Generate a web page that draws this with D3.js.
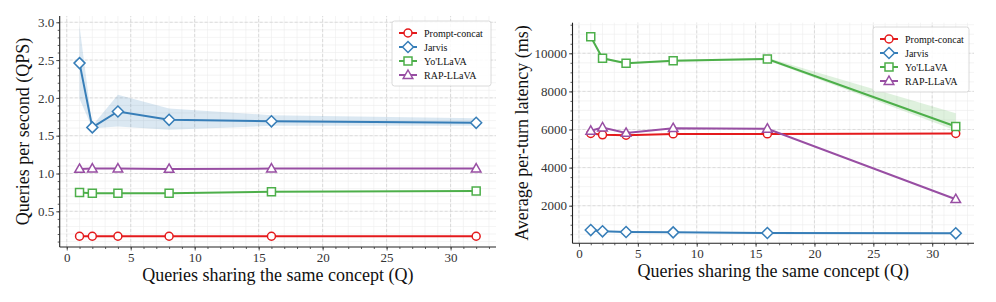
<!DOCTYPE html>
<html>
<head>
  <title>QPS and latency</title>
  <style>
    body { margin: 0; background: #fff; }
  </style>
</head>
<body>
  <svg id="chart" width="996" height="302"></svg>

  <script src="https://d3js.org/d3.v7.min.js"></script>
  <script>
    const queries = [1, 2, 4, 8, 16, 32];
    const methods = ["Prompt-concat", "Jarvis", "Yo'LLaVA", "RAP-LLaVA"];
    const colors = ["#e41a1c", "#377eb8", "#4daf4a", "#984ea3"];
    const markers = ["circle", "diamond", "square", "triangle"];

    // queries per second
    const qpsPrompt = [0.17, 0.17, 0.17, 0.17, 0.17, 0.17];
    const qpsJarvis = [2.46, 1.61, 1.82, 1.71, 1.69, 1.67];
    const qpsYollava = [0.75, 0.74, 0.74, 0.74, 0.76, 0.77];
    const qpsRap = [1.06, 1.065, 1.065, 1.06, 1.065, 1.065];
    const qpsJarvisLow = [1.99, 1.60, 1.62, 1.58, 1.63, 1.63];
    const qpsJarvisHigh = [2.95, 1.63, 2.04, 1.86, 1.77, 1.73];

    // per-turn latency (ms)
    const latPrompt = [5790, 5720, 5700, 5770, 5770, 5790];
    const latJarvis = [720, 655, 620, 600, 570, 550];
    const latYollava = [10870, 9740, 9475, 9610, 9700, 6160];
    const latRap = [5930, 6105, 5820, 6070, 6040, 2340];
    const latYollavaLow = [10820, 9690, 9430, 9560, 9640, 5950];
    const latYollavaHigh = [10920, 9790, 9520, 9660, 9760, 6850];
    const latJarvisLow = [690, 630, 600, 580, 545, 520];
    const latJarvisHigh = [750, 680, 640, 620, 595, 580];

    const serif = "'Liberation Serif', 'Times New Roman', 'DejaVu Serif', serif";
    const svg = d3.select("#chart");

    function drawPanel(p) {
      const g = svg.append("g");
      const x = d3.scaleLinear().domain([-0.55, 33.55]).range(p.xRange);
      const y = d3.scaleLinear().domain(p.yDomain).range(p.yRange);
      const [x0, x1] = p.xRange;
      const [y0, y1] = p.yRange;   // y0 bottom, y1 top

      // grid
      const grid = g.append("g");
      grid.selectAll(".vminor").data(d3.range(0, 34, 1))
        .join("line")
        .attr("x1", d => x(d)).attr("x2", d => x(d))
        .attr("y1", y0).attr("y2", y1)
        .attr("stroke", "#ececec").attr("stroke-width", 0.6);
      grid.selectAll(".hminor").data(p.yMinor)
        .join("line")
        .attr("x1", x0).attr("x2", x1)
        .attr("y1", d => y(d)).attr("y2", d => y(d))
        .attr("stroke", "#ececec").attr("stroke-width", 0.6);
      grid.selectAll(".vmajor").data(d3.range(0, 35, 5))
        .join("line")
        .attr("x1", d => x(d)).attr("x2", d => x(d))
        .attr("y1", y0).attr("y2", y1)
        .attr("stroke", "#d4d4d4").attr("stroke-width", 0.8)
        .attr("stroke-dasharray", "3,2");
      grid.selectAll(".hmajor").data(p.yTicks)
        .join("line")
        .attr("x1", x0).attr("x2", x1)
        .attr("y1", d => y(d)).attr("y2", d => y(d))
        .attr("stroke", "#d4d4d4").attr("stroke-width", 0.8)
        .attr("stroke-dasharray", "3,2");

      // bands
      p.bands.forEach(b => {
        const area = d3.area()
          .x((d, i) => x(queries[i]))
          .y0((d, i) => y(b.low[i]))
          .y1((d, i) => y(b.high[i]));
        g.append("path").datum(queries)
          .attr("d", area)
          .attr("fill", colors[b.idx]).attr("fill-opacity", 0.18);
      });

      // lines and markers
      const line = d3.line().x((d, i) => x(queries[i])).y(d => y(d));
      p.series.forEach((s, k) => {
        g.append("path").datum(s)
          .attr("d", line)
          .attr("fill", "none").attr("stroke", colors[k]).attr("stroke-width", 2);
        g.selectAll(".m" + k).data(s)
          .join("path")
          .attr("transform", (d, i) => `translate(${x(queries[i])},${y(d)})`)
          .attr("d", markerPath(markers[k]))
          .attr("fill", "#fff").attr("stroke", colors[k]).attr("stroke-width", 1.5);
      });

      // axes
      const xAxis = g.append("g").attr("transform", `translate(0,${y0})`)
        .call(d3.axisBottom(x).tickValues(d3.range(0, 35, 5)).tickSize(3.5).tickPadding(2));
      g.append("g").attr("transform", `translate(0,${y0})`)
        .call(d3.axisBottom(x).tickValues(d3.range(0, 34, 1)).tickSize(2).tickFormat(""))
        .call(a => a.select(".domain").remove());
      const yAxis = g.append("g").attr("transform", `translate(${x0},0)`)
        .call(d3.axisLeft(y).tickValues(p.yTicks).tickSize(3.5).tickPadding(2)
          .tickFormat(p.format));
      g.append("g").attr("transform", `translate(${x0},0)`)
        .call(d3.axisLeft(y).tickValues(p.yMinor).tickSize(2).tickFormat(""))
        .call(a => a.select(".domain").remove());

      g.selectAll(".domain").attr("stroke", "#222").attr("stroke-width", 1.1);
      g.selectAll(".tick line").attr("stroke", "#333").attr("stroke-width", 0.8);
      xAxis.selectAll("text").attr("font-size", 13).attr("fill", "#333");
      yAxis.selectAll("text").attr("font-size", 13).attr("fill", "#333");
      xAxis.select(".domain").attr("d", `M${x0},0H${x1}`);
      yAxis.select(".domain").attr("d", `M0,${y0}V${y1}`);

      // labels
      g.append("text")
        .attr("x", (x0 + x1) / 2).attr("y", p.xLabelY)
        .attr("text-anchor", "middle").attr("font-size", 18).attr("fill", "#111")
        .text("Queries sharing the same concept (Q)");
      g.append("text")
        .attr("transform", `translate(${p.yLabelX},${(y0 + y1) / 2}) rotate(-90)`)
        .attr("text-anchor", "middle").attr("font-size", 18).attr("fill", "#111")
        .text(p.yLabel);

      // legend
      const lg = g.append("g").attr("transform", `translate(${p.legend[0]},${p.legend[1]})`);
      lg.append("rect")
        .attr("width", p.legend[2]).attr("height", 65).attr("rx", 2.5)
        .attr("fill", "#fff").attr("fill-opacity", 0.85)
        .attr("stroke", "#d0d0d0").attr("stroke-width", 0.8);
      methods.forEach((m, k) => {
        const ly = 12 + k * 14;
        lg.append("line")
          .attr("x1", 7).attr("x2", 25).attr("y1", ly).attr("y2", ly)
          .attr("stroke", colors[k]).attr("stroke-width", 2);
        lg.append("path")
          .attr("transform", `translate(16,${ly})`)
          .attr("d", markerPath(markers[k]))
          .attr("fill", "#fff").attr("stroke", colors[k]).attr("stroke-width", 1.5);
        lg.append("text")
          .attr("x", 32).attr("y", ly + 3.5)
          .attr("font-size", 10).attr("fill", "#111")
          .text(m);
      });

      g.selectAll("text").style("font-family", serif);
    }

    function markerPath(type) {
      if (type === "circle") return d3.symbol(d3.symbolCircle, 50)();
      if (type === "square") return "M-4,-4H4V4H-4Z";
      if (type === "diamond") return "M0,-5.5L5.5,0L0,5.5L-5.5,0Z";
      return "M0,-5L4.8,3.4H-4.8Z";
    }

    drawPanel({
      xRange: [59.7, 496],
      yDomain: [0.028, 3.083],
      yRange: [247, 16],
      yTicks: [0.5, 1.0, 1.5, 2.0, 2.5, 3.0],
      yMinor: d3.range(1, 31).map(d => d / 10),
      format: d3.format(".1f"),
      series: [qpsPrompt, qpsJarvis, qpsYollava, qpsRap],
      bands: [{ idx: 1, low: qpsJarvisLow, high: qpsJarvisHigh }],
      yLabel: "Queries per second (QPS)",
      yLabelX: 29,
      xLabelY: 281,
      legend: [392, 21, 99]
    });

    drawPanel({
      xRange: [572.5, 974],
      yDomain: [26, 11606],
      yRange: [243.3, 22.7],
      yTicks: [2000, 4000, 6000, 8000, 10000],
      yMinor: d3.range(500, 11600, 500),
      format: d3.format("d"),
      series: [latPrompt, latJarvis, latYollava, latRap],
      bands: [
        { idx: 2, low: latYollavaLow, high: latYollavaHigh },
        { idx: 1, low: latJarvisLow, high: latJarvisHigh }
      ],
      yLabel: "Average per-turn latency (ms)",
      yLabelX: 528,
      xLabelY: 277,
      legend: [873, 27, 96]
    });
  </script>
</body>
</html>
